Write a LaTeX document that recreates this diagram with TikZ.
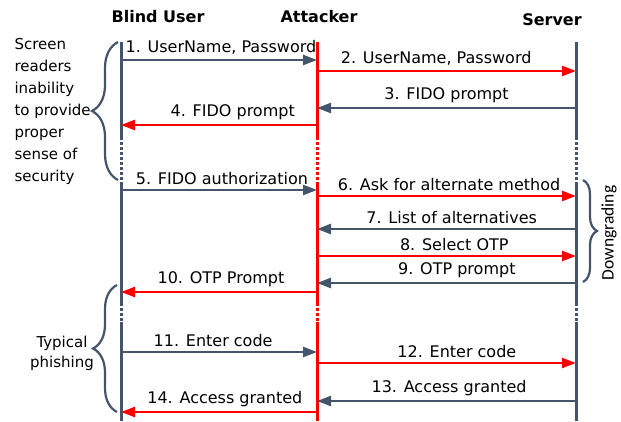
\documentclass[tikz,border=0pt]{standalone}
\usepackage{fontspec}
\setmainfont{DejaVu Sans}
\newfontfamily\sidefont{Carlito}
\usepackage{tikz}
\usetikzlibrary{arrows.meta, decorations.pathreplacing}
\definecolor{slate}{HTML}{44546A}
\definecolor{alarm}{HTML}{FF0000}

\begin{document}
\begin{tikzpicture}[x=1pt, y=-1pt, >={Triangle[length=14pt, width=10pt]}, font=\fontsize{16}{19}\selectfont]
	\tikzstyle{actor}=[font=\fontsize{16}{19}\selectfont\bfseries]
	\tikzstyle{life}=[line width=3pt]
	\tikzstyle{gap}=[line width=3pt, dash pattern=on 3pt off 2pt]
	\tikzstyle{good}=[->, slate, line width=2.4pt]
	\tikzstyle{evil}=[->, alarm, line width=2.4pt]
	\tikzstyle{lbl}=[above, text=black, inner sep=4pt]
	\tikzstyle{curly}=[slate, line width=2.2pt, decorate]
	
	\useasboundingbox (0,0) rectangle (621,421);
	
	% actors
	\node[actor] (user) at (158,17) {Blind User};
	\node[actor] (att) at (319,17) {Attacker};
	\node[actor] (srv) at (552,20) {Server};
	\coordinate (u) at (121,0);
	\coordinate (a) at (317,0);
	\coordinate (s) at (576,0);
	
	% lifelines
	\draw[life, slate] (u |- 0,42) -- (u |- 0,137);
	\draw[gap, slate] (u |- 0,137) -- (u |- 0,184);
	\draw[life, slate] (u |- 0,184) -- (u |- 0,303);
	\draw[gap, slate] (u |- 0,303) -- (u |- 0,322);
	\draw[life, slate] (u |- 0,322) -- (u |- 0,421);
	
	\draw[life, alarm] (a |- 0,42) -- (a |- 0,137);
	\draw[gap, alarm] (a |- 0,137) -- (a |- 0,184);
	\draw[life, alarm] (a |- 0,184) -- (a |- 0,303);
	\draw[gap, alarm] (a |- 0,303) -- (a |- 0,322);
	\draw[life, alarm] (a |- 0,322) -- (a |- 0,421);
	
	\draw[life, slate] (s |- 0,42) -- (s |- 0,137);
	\draw[gap, slate] (s |- 0,137) -- (s |- 0,184);
	\draw[life, slate] (s |- 0,184) -- (s |- 0,303);
	\draw[gap, slate] (s |- 0,303) -- (s |- 0,322);
	\draw[life, slate] (s |- 0,322) -- (s |- 0,421);
	
	% messages
	\path[good] (u |- 0,60) edge node[lbl, pos=0.51] {1. UserName, Password} (a |- 0,60);
	\path[evil] (a |- 0,71) edge node[lbl, pos=0.46] {2. UserName, Password} (s |- 0,71);
	\path[good] (s |- 0,108) edge node[lbl, pos=0.5] {3. FIDO prompt} (a |- 0,108);
	\path[evil] (a |- 0,125) edge node[lbl, pos=0.43] {4. FIDO prompt} (u |- 0,125);
	\path[good] (u |- 0,190) edge node[lbl, pos=0.515] {5. FIDO authorization} (a |- 0,190);
	\path[evil] (a |- 0,196) edge node[lbl, pos=0.51] {6. Ask for alternate method} (s |- 0,196);
	\path[good] (s |- 0,229) edge node[lbl, pos=0.48] {7. List of alternatives} (a |- 0,229);
	\path[evil] (a |- 0,256) edge node[lbl, pos=0.53] {8. Select OTP} (s |- 0,256);
	\path[good] (s |- 0,283) edge node[lbl, pos=0.46] {9. OTP prompt} (a |- 0,283);
	\path[evil] (a |- 0,292) edge node[lbl, pos=0.49] {10. OTP Prompt} (u |- 0,292);
	\path[good] (u |- 0,352) edge node[lbl, pos=0.47] {11. Enter code} (a |- 0,352);
	\path[evil] (a |- 0,363) edge node[lbl, pos=0.54] {12. Enter code} (s |- 0,363);
	\path[good] (s |- 0,401) edge node[lbl, pos=0.49] {13. Access granted} (a |- 0,401);
	\path[evil] (a |- 0,412) edge node[lbl, pos=0.47] {14. Access granted} (u |- 0,412);
	
	% braces and notes
	\draw[curly, decoration={brace, amplitude=26pt}] (118,180) -- (118,42);
	\node[anchor=west, align=left, font=\fontsize{15}{22}\selectfont] (screen) at (11,111) {Screen\\readers\\inability\\to provide\\proper\\sense of\\security};
	
	\draw[curly, decoration={brace, amplitude=24pt}] (117,412) -- (117,285);
	\node[align=center, font=\fontsize{15}{20}\selectfont] (phish) at (62,353) {Typical\\phishing};
	
	\draw[curly, decoration={brace, amplitude=14pt}] (583,180) -- (583,282);
	\node[rotate=90, font=\sidefont\fontsize{17.5}{19}\selectfont] (down) at (609,233) {Downgrading};
\end{tikzpicture}
\end{document}
